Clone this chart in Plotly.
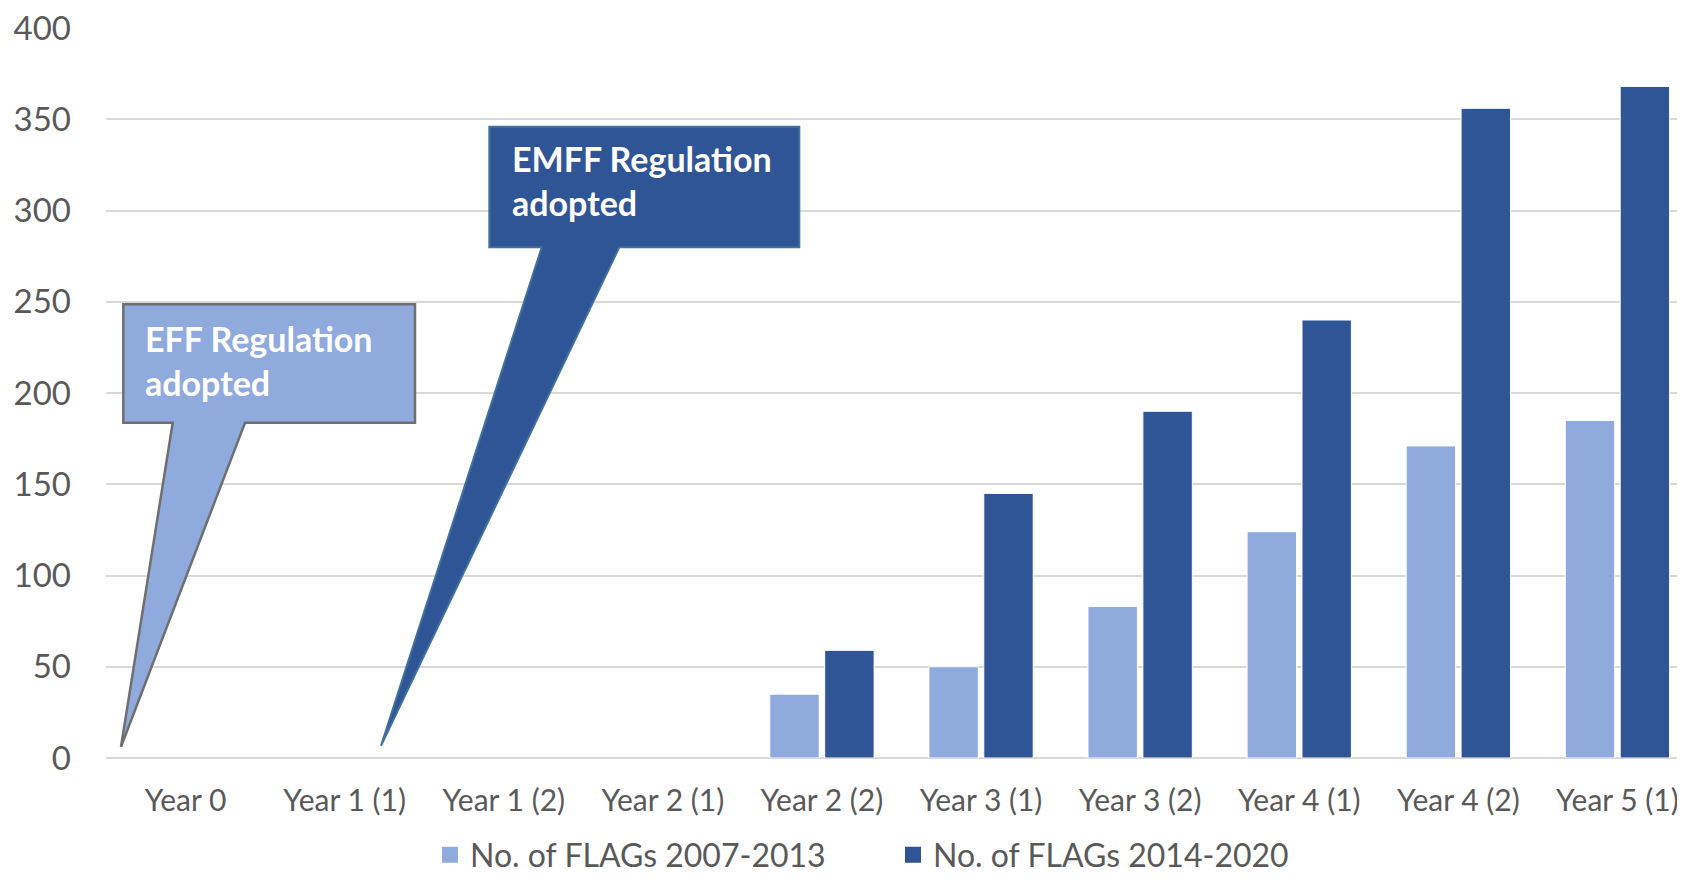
import plotly.graph_objects as go

categories = ["Year 0", "Year 1 (1)", "Year 1 (2)", "Year 2 (1)", "Year 2 (2)",
              "Year 3 (1)", "Year 3 (2)", "Year 4 (1)", "Year 4 (2)", "Year 5 (1)"]
flags_2007_2013 = [None, None, None, None, 35, 50, 83, 124, 171, 185]
flags_2014_2020 = [None, None, None, None, 59, 145, 190, 240, 356, 368]
series_names = ["No. of FLAGs 2007-2013", "No. of FLAGs 2014-2020"]
y_ticks = [0, 50, 100, 150, 200, 250, 300, 350, 400]

LIGHT = "#8FAADC"
DARK = "#2F5597"
FONT = "Lato"
TXT = "#595959"

# the page body has an 8px margin: size the figure so it fills the 1685x879 window
OFF = 8
SW, SH = 1685, 879
FW, FH = SW - OFF, SH - OFF
L, R, T, B = 98, 0, 20, 121
PW = FW - L - R
PH = FH - T - B
PLOT_L = OFF + L
PLOT_B = OFF + FH - B


def px(x, y):
    """screen pixel -> paper coords"""
    return (x - PLOT_L) / PW, (PLOT_B - y) / PH


def path(points):
    s = ""
    for i, (x, y) in enumerate(points):
        xp, yp = px(x, y)
        s += ("M" if i == 0 else "L") + f"{xp:.5f},{yp:.5f} "
    return s + "Z"


fig = go.Figure()
fig.add_trace(go.Bar(x=categories, y=flags_2007_2013, name=series_names[0], showlegend=False,
                     legendgroup="a", marker=dict(color=LIGHT, line=dict(color="white", width=1))))
fig.add_trace(go.Bar(x=categories, y=flags_2014_2020, name=series_names[1], showlegend=False,
                     legendgroup="b", marker=dict(color=DARK, line=dict(color="white", width=1))))
# legend entries with larger square swatches
fig.add_trace(go.Scatter(x=[None], y=[None], mode="markers", name=series_names[0], legendgroup="a",
                         marker=dict(symbol="square", size=20, color=LIGHT)))
fig.add_trace(go.Scatter(x=[None], y=[None], mode="markers", name=series_names[1], legendgroup="b",
                         marker=dict(symbol="square", size=20, color=DARK)))

eff = [(123.3, 304.3), (415, 304.3), (415, 422.7), (245, 422.7), (121, 746.7),
       (172.7, 422.7), (123.3, 422.7)]
emff = [(489.3, 126.7), (799.3, 126.7), (799.3, 247.3), (619.3, 247.3), (381, 745.7),
        (541.7, 247.3), (489.3, 247.3)]

shapes = [
    dict(type="path", xref="paper", yref="paper", path=path(eff), fillcolor=LIGHT,
         line=dict(color="#6F6F6F", width=2.5), layer="above"),
    dict(type="path", xref="paper", yref="paper", path=path(emff), fillcolor=DARK,
         line=dict(color="#41719C", width=2), layer="above"),
]

ax1, ay1 = px(143, 360)
ax2, ay2 = px(510, 181)
annotations = [
    dict(text="<b>EFF Regulation<br>adopted</b>", x=ax1, y=ay1, xref="paper", yref="paper",
         xanchor="left", yanchor="middle", align="left", showarrow=False,
         font=dict(family=FONT, size=34, color="white")),
    dict(text="<b>EMFF Regulation<br>adopted</b>", x=ax2, y=ay2, xref="paper", yref="paper",
         xanchor="left", yanchor="middle", align="left", showarrow=False,
         font=dict(family=FONT, size=34, color="white")),
]

lx, _ = px(430, 0)
fig.update_layout(
    width=FW, height=FH,
    margin=dict(l=L, r=R, t=T, b=B, pad=0, autoexpand=False),
    paper_bgcolor="white", plot_bgcolor="white",
    barmode="group", bargap=0.31, bargroupgap=0.1,
    font=dict(family=FONT, color=TXT),
    showlegend=True,
    legend=dict(orientation="h", x=lx, xanchor="left", yref="container",
                y=1 - (855 - OFF) / FH, yanchor="middle",
                font=dict(family=FONT, size=32, color=TXT), itemwidth=30,
                entrywidth=418, entrywidthmode="pixels", itemclick=False,
                bgcolor="rgba(0,0,0,0)"),
    shapes=shapes,
    annotations=annotations,
    xaxis=dict(type="category", categoryorder="array", categoryarray=categories,
               range=[-0.5, -0.5 + PW / 159.1], showgrid=False, showline=False,
               zeroline=False, ticks="", ticklabelstandoff=22, automargin=False,
               tickfont=dict(family=FONT, size=30, color=TXT)),
    yaxis=dict(range=[0, 400], tickvals=y_ticks, showgrid=True, gridcolor="#D9D9D9",
               gridwidth=1.5, zeroline=True, zerolinecolor="#D9D9D9", zerolinewidth=2,
               showline=False, ticks="", ticklabelstandoff=34, automargin=False,
               ticklabeloverflow="allow",
               tickfont=dict(family=FONT, size=33, color=TXT)),
)

fig.write_html("out.html")
